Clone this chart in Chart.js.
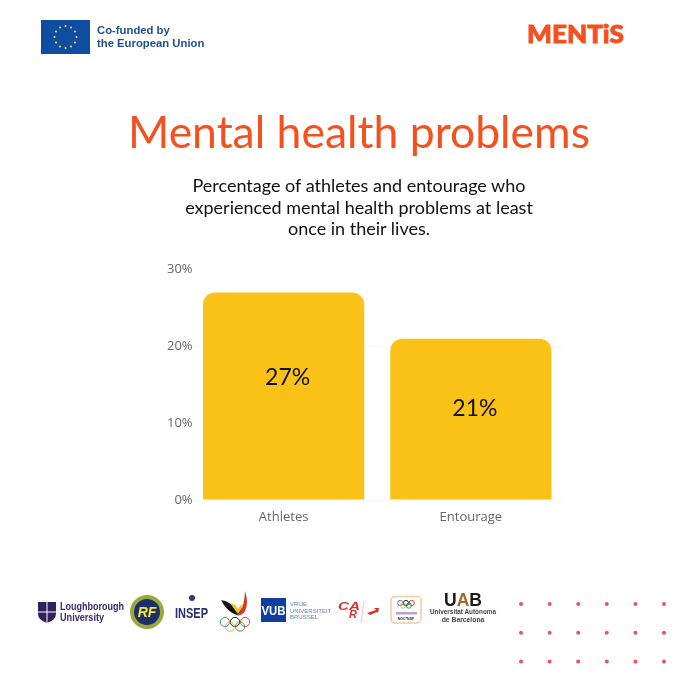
<!DOCTYPE html>
<html>
<head>
<meta charset="utf-8">
<script src="https://cdn.jsdelivr.net/npm/chart.js@4"></script>
<style>
  html, body { margin: 0; padding: 0; background: #fff; }
  #page { position: relative; width: 680px; height: 680px; overflow: hidden; }
  #chart { position: absolute; left: 0; top: 0; }
  #title { position: absolute; left: 0; width: 718px; top: 104px; text-align: center;
    font: 400 44.5px Lato, sans-serif; color: #f4511e; white-space: nowrap; }
  #subtitle { position: absolute; left: 0; width: 718px; top: 175px; text-align: center;
    font: 400 18px/21.6px Lato, sans-serif; color: #111; }
  #art { position: absolute; left: 0; top: 0; }
</style>
</head>
<body>
<div id="page">
  <canvas id="chart" width="680" height="680"></canvas>
  <svg id="art" width="680" height="680" xmlns="http://www.w3.org/2000/svg"></svg>
  <div id="title">Mental health problems</div>
  <div id="subtitle">Percentage of athletes and entourage who<br>experienced mental health problems at least<br>once in their lives.</div>
</div>
<script>
// --- dados ---
const categories = ['Athletes', 'Entourage'];
const values = [27, 21];
const valueLabels = ['27%', '21%'];
const yTicks = [0, 10, 20, 30];

const barColor = '#fac116';
const tickColor = '#666666';

// rotulo dentro da barra (no original nao fica bem no meio)
const labelShift = [{ x: 4, y: -18 }, { x: 4, y: -10 }];

const barLabels = {
  id: 'barLabels',
  afterDatasetsDraw(chart) {
    const { ctx } = chart;
    chart.getDatasetMeta(0).data.forEach((bar, i) => {
      const mid = (bar.y + bar.base) / 2;
      ctx.save();
      ctx.font = '400 23px Lato, sans-serif';
      ctx.fillStyle = '#111111';
      ctx.textAlign = 'center';
      ctx.textBaseline = 'middle';
      ctx.fillText(valueLabels[i], bar.x + labelShift[i].x, mid + labelShift[i].y);
      ctx.restore();
    });
  }
};

new Chart(document.getElementById('chart').getContext('2d'), {
  type: 'bar',
  data: {
    labels: categories,
    datasets: [{
      data: values,
      backgroundColor: barColor,
      borderRadius: { topLeft: 12, topRight: 12 },
      borderSkipped: 'bottom',
      barPercentage: 0.861,
      categoryPercentage: 1
    }]
  },
  options: {
    responsive: false,
    animation: false,
    layout: { padding: { left: 150, right: 115.5, top: 269.5, bottom: 150 } },
    plugins: { legend: { display: false }, tooltip: { enabled: false } },
    scales: {
      x: {
        grid: { display: false },
        border: { display: false },
        afterFit: (s) => { s.height = 30; },
        ticks: { color: tickColor, padding: 1, font: { family: '"Open Sans"', size: 13 } }
      },
      y: {
        min: 0,
        max: 30,
        afterFit: (s) => { s.width = 40; },
        afterBuildTicks: (s) => { s.ticks = yTicks.map(v => ({ value: v })); },
        // so 0 e 20 aparecem de leve no original
        grid: {
          drawTicks: false,
          color: (c) => (c.tick.value === 0 || c.tick.value === 20) ? '#f8f8f8' : 'rgba(0,0,0,0)'
        },
        border: { display: false },
        // mirror + far: senao o texto e cortado na borda do eixo
        ticks: {
          mirror: true,
          crossAlign: 'far',
          padding: -23,
          color: tickColor,
          font: { family: '"Open Sans"', size: 13 },
          callback: (v) => v + '%'
        }
      }
    }
  },
  plugins: [barLabels]
});

// --- logos e enfeites (desenho aproximado) ---
const art = document.getElementById('art');
let svg = '';
const txt = (x, y, s, size, weight, fill, extra = '') =>
  `<text x="${x}" y="${y}" font-size="${size}" font-weight="${weight}" fill="${fill}" ${extra}>${s}</text>`;
const rings = (cx, cy, r) => ['#3b7fc4', '#222', '#d8443c', '#e5b53c', '#4a9b5a'].map((c, i) => {
  const x = cx + (i < 3 ? (i - 1) * r * 2.2 : (i === 3 ? -1.1 : 1.1) * r);
  const y = cy + (i < 3 ? 0 : r);
  return `<circle cx="${x}" cy="${y}" r="${r}" fill="none" stroke="${c}" stroke-width="1"/>`;
}).join('');

// bandeira UE
svg += '<rect x="41" y="20" width="49" height="34" fill="#0f4da2"/>';
for (let i = 0; i < 12; i++) {
  const a = i * Math.PI / 6;
  svg += `<circle cx="${65.5 + 11 * Math.cos(a)}" cy="${37 + 11 * Math.sin(a)}" r="1" fill="#ffe14d"/>`;
}
const arial = 'font-family="Liberation Sans"';
svg += txt(97, 34, 'Co-funded by', 11.3, 700, '#1d4f91', arial);
svg += txt(97, 47, 'the European Union', 11.3, 700, '#1d4f91', arial);
svg += txt(527, 43, 'MENTiS', 25, 900, '#f4511e', 'font-family="Lato" stroke="#f4511e" stroke-width="0.9" textLength="97" lengthAdjust="spacingAndGlyphs"');

// Loughborough
svg += '<path d="M38 602h18v12q0 6-9 9q-9-3-9-9z" fill="#35205f"/>';
svg += '<path d="M47 602v21M38 612h18" stroke="#fff" stroke-width="1"/>';
svg += txt(60, 610, 'Loughborough', 10.5, 700, '#3a2a6e', arial + ' textLength="64" lengthAdjust="spacingAndGlyphs"');
svg += txt(60, 621, 'University', 10.5, 700, '#3a2a6e', arial + ' textLength="44" lengthAdjust="spacingAndGlyphs"');

// RF
svg += '<circle cx="147" cy="612" r="17" fill="#9aa83c"/><circle cx="147" cy="612" r="13" fill="#1c2f66"/>';
svg += txt(147, 617, 'RF', 14, 700, '#f5e63c', arial + ' text-anchor="middle" font-style="italic"');

// INSEP
svg += '<circle cx="192" cy="598" r="3" fill="#2c3a7c"/>';
svg += txt(175, 618, 'INSEP', 14, 700, '#26306f', arial + ' textLength="33" lengthAdjust="spacingAndGlyphs"');

// COIB
svg += '<path d="M221 600q10 1 16 12q5-3 6-7q-2 9-6 10q-10-3-16-15z" fill="#111"/>';
svg += '<path d="M237 616q7-6 8-25q4 12 0 20q-2 4-8 5z" fill="#d8342c"/>';
svg += '<path d="M230 603q6 1 8 6q2-4 6-6q-2 6-6 11q-4-5-8-11z" fill="#f2c230"/>';
svg += rings(235, 622, 4.6);

// VUB
svg += '<rect x="261" y="598" width="25" height="24" fill="#0f3f9e"/>';
svg += txt(273.5, 615, 'VUB', 12, 700, '#fff', arial + ' text-anchor="middle" textLength="24" lengthAdjust="spacingAndGlyphs"');
['VRIJE', 'UNIVERSITEIT', 'BRUSSEL'].forEach((s, i) => {
  svg += txt(290, 606 + i * 6.6, s, 6, 400, '#5f86bd', arial);
});

// CAR
svg += txt(338, 610, 'CA', 11, 700, '#d8342c', arial + ' font-style="italic" textLength="22" lengthAdjust="spacingAndGlyphs"');
svg += txt(349, 618, 'R', 11, 700, '#d8342c', arial + ' font-style="italic"');
svg += '<path d="M364 601l-3 22" stroke="#f0b5b0" stroke-width="0.8"/>';
svg += '<path d="M367 613l9-3l-2 -2l5 0l-1 5l-1-1l-7 3z" fill="#d8342c"/>';

// NOC*NSF
svg += '<rect x="391" y="596.5" width="30" height="26.5" rx="4" fill="#fff" stroke="#f3c9a8" stroke-width="1.5"/>';
svg += rings(406, 603, 2.6);
svg += '<rect x="396" y="612" width="21" height="2.5" fill="#b9a3c9"/>';
svg += txt(406, 619.5, 'NOC*NSF', 3.6, 700, '#333', arial + ' text-anchor="middle"');

// UAB
svg += `<text x="463" y="606" font-size="18" font-weight="700" fill="#1a1a1a" ${arial} text-anchor="middle" textLength="38" lengthAdjust="spacingAndGlyphs">U<tspan fill="#a8682e">A</tspan>B</text>`;
svg += txt(463, 614, 'Universitat Autònoma', 6.8, 700, '#444', arial + ' text-anchor="middle" textLength="66" lengthAdjust="spacingAndGlyphs"');
svg += txt(463, 622, 'de Barcelona', 6.8, 700, '#444', arial + ' text-anchor="middle"');

// pontos
for (let r = 0; r < 3; r++) {
  for (let c = 0; c < 6; c++) {
    svg += `<circle cx="${521 + c * 28.6}" cy="${604 + r * 28.7}" r="2" fill="#e9525f"/>`;
  }
}
art.innerHTML = svg;
</script>
</body>
</html>
